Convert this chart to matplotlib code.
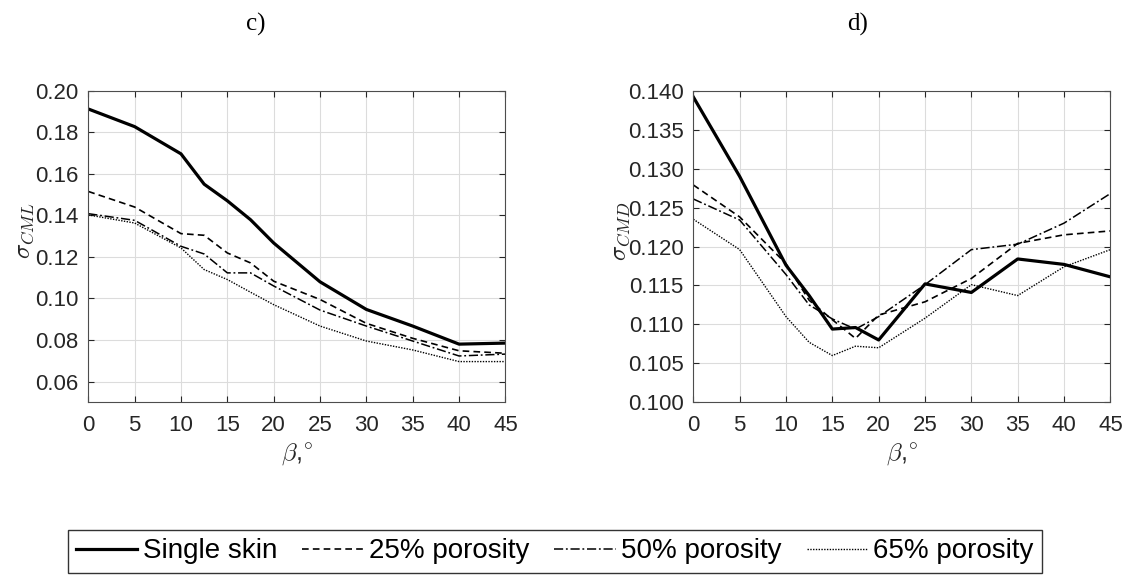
import matplotlib
matplotlib.use("Agg")
import matplotlib.pyplot as plt
from matplotlib.lines import Line2D

plt.rcParams['font.family'] = ['Liberation Sans', 'DejaVu Sans']
plt.rcParams['mathtext.fontset'] = 'cm'

beta = [0, 5, 10, 12.5, 15, 17.5, 20, 25, 30, 35, 40, 45]

# panel c) sigma_CML
cml_single = [0.1912, 0.1827, 0.1696, 0.1550, 0.1470, 0.1379, 0.1267, 0.1080, 0.0947, 0.0867, 0.0780, 0.0785]
cml_25 = [0.1515, 0.1440, 0.1312, 0.1304, 0.1219, 0.1171, 0.1083, 0.0995, 0.0880, 0.0808, 0.0748, 0.0736]
cml_50 = [0.1408, 0.1376, 0.1251, 0.1214, 0.1123, 0.1123, 0.1060, 0.0944, 0.0867, 0.0795, 0.0723, 0.0732]
cml_65 = [0.1402, 0.1363, 0.1243, 0.1139, 0.1091, 0.1030, 0.0970, 0.0867, 0.0795, 0.0752, 0.0696, 0.0696]

# panel d) sigma_CMD
cmd_single = [0.1392, 0.1290, 0.1176, 0.1137, 0.1094, 0.1096, 0.1080, 0.1152, 0.1141, 0.1184, 0.1177, 0.1161]
cmd_25 = [0.1279, 0.1238, 0.1178, 0.1131, 0.1106, 0.1082, 0.1112, 0.1129, 0.1159, 0.1204, 0.1215, 0.1220]
cmd_50 = [0.1261, 0.1234, 0.1164, 0.1125, 0.1107, 0.1094, 0.1110, 0.1151, 0.1196, 0.1203, 0.1230, 0.1268]
cmd_65 = [0.1235, 0.1196, 0.1110, 0.1077, 0.1060, 0.1072, 0.1070, 0.1108, 0.1151, 0.1137, 0.1174, 0.1196]

labels = ['Single skin', '25% porosity', '50% porosity', '65% porosity']
xticks = [0, 5, 10, 15, 20, 25, 30, 35, 40, 45]
yticks_c = [0.06, 0.08, 0.10, 0.12, 0.14, 0.16, 0.18, 0.20]
yticks_d = [0.100, 0.105, 0.110, 0.115, 0.120, 0.125, 0.130, 0.135, 0.140]

styles = [
    dict(color='black', lw=2.3, linestyle='-'),
    dict(color='black', lw=1.2, linestyle=(0, (4, 2.5))),
    dict(color='black', lw=1.1, linestyle=(0, (6, 1.8, 1.2, 1.8))),
    dict(color='black', lw=1.0, linestyle=(0, (1, 1))),
]

W, H = 1130, 581
fig = plt.figure(figsize=(W / 100, H / 100), dpi=100)

def px_rect(x0, x1, ytop, ybot):
    return [x0 / W, 1 - ybot / H, (x1 - x0) / W, (ybot - ytop) / H]

axc = fig.add_axes(px_rect(88.3, 505.4, 90.7, 402.3))
axd = fig.add_axes(px_rect(693.3, 1110.4, 90.7, 402.3))

tick_color = '#262626'
for ax, data, yt, ylim, fmt, ylab in [
    (axc, [cml_single, cml_25, cml_50, cml_65], yticks_c, (0.05, 0.20), '{:.2f}', r'$\sigma_{CML}$'),
    (axd, [cmd_single, cmd_25, cmd_50, cmd_65], yticks_d, (0.100, 0.140), '{:.3f}', r'$\sigma_{CMD}$'),
]:
    for d, st in zip(data, styles):
        ax.plot(beta, d, **st)
    ax.set_xlim(0, 45)
    ax.set_ylim(*ylim)
    ax.set_xticks(xticks)
    ax.set_yticks(yt)
    ax.set_yticklabels([fmt.format(v) for v in yt])
    ax.grid(True, color='#dcdcdc', lw=0.8)
    ax.set_axisbelow(True)
    ax.tick_params(direction='in', length=4, width=0.8, colors=tick_color,
                   labelsize=16, top=True, right=True, pad=7)
    ax.tick_params(axis='x', pad=9)
    for sp in ax.spines.values():
        sp.set_color('#4d4d4d')
        sp.set_linewidth(0.8)
    ax.set_ylabel(ylab, fontsize=18, color=tick_color)
    ax.set_xlabel(r'$\beta$,$^{\circ}$', fontsize=18, color=tick_color)
    ax.xaxis.set_label_coords(0.5, -0.125)

axc.yaxis.set_label_coords(-0.125, 0.55)
axd.yaxis.set_label_coords(-0.148, 0.55)

fig.text(256 / W, 1 - 24 / H, 'c)', fontsize=18, family='Liberation Serif', ha='center', va='center')
fig.text(858 / W, 1 - 24 / H, 'd)', fontsize=18, family='Liberation Serif', ha='center', va='center')

handles = [Line2D([], [], **st) for st in styles]
leg = fig.legend(handles, labels, loc='center', bbox_to_anchor=(555 / W, 1 - 551.5 / H),
                 ncol=4, fontsize=20, frameon=True, fancybox=False, handlelength=2.2,
                 handletextpad=0.2, columnspacing=0.9, borderpad=0.3, borderaxespad=0)
leg.get_frame().set_edgecolor('black')
leg.get_frame().set_linewidth(1.0)

fig.savefig('out.png', dpi=100)
